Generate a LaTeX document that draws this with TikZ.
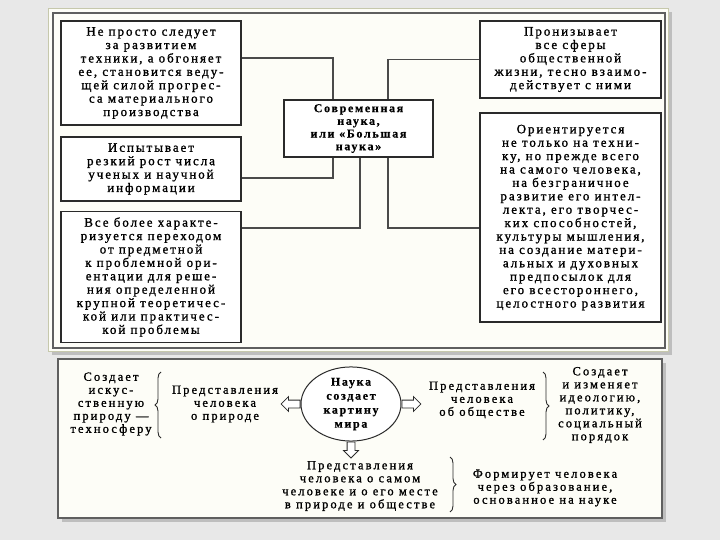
\documentclass[tikz,border=0pt]{standalone}
\usepackage{fontspec}
\setmainfont{Liberation Serif}
\newfontfamily\panelfont[LetterSpace=15, FakeBold=1.2]{Liberation Serif}
\newfontfamily\notefont[LetterSpace=17, FakeBold=1.2]{Liberation Serif}
\newfontfamily\hubfont[LetterSpace=14, FakeBold=0.6]{Liberation Serif}
\usetikzlibrary{positioning, shapes.geometric, shapes.arrows, shadows, decorations.pathreplacing}
\definecolor{paper}{HTML}{FDFDF7}
\definecolor{backdrop}{HTML}{E8E8E8}
\definecolor{frameline}{HTML}{C6C8AC}
\definecolor{ink}{HTML}{2A2A2A}

\tikzset{
  box/.style={draw=ink, line width=1.1pt, fill=white, align=center, inner sep=0pt,
    font=\panelfont\fontsize{13}{13.4}\selectfont},
  hub/.style={box, font=\hubfont\bfseries\fontsize{12}{12.7}\selectfont},
  link/.style={draw=ink!85, line width=1.1pt},
  note/.style={align=center, inner sep=0pt, font=\notefont\fontsize{12.5}{13}\selectfont},
  hollow/.style={single arrow, draw=ink, fill=white, line width=0.8pt, inner sep=3.5pt,
    single arrow head extend=3.5pt, minimum height=19pt},
  curly/.style={decorate, decoration={brace, amplitude=6pt}, line width=0.9pt, draw=ink}
}

\begin{document}
\begin{tikzpicture}[x=1pt, y=-1pt, on grid]
  \useasboundingbox (0,0) rectangle (720,540);
  \fill[backdrop] (0,0) rectangle (720,540);

  % upper panel
  \filldraw[fill=paper, draw=frameline, drop shadow={shadow xshift=4pt, shadow yshift=-4pt, opacity=0.4}]
    (48,8) rectangle (668,351);
  \draw[ink!75, line width=1.2pt] (53,13) rectangle (665,348);
  % lower panel
  \filldraw[fill=paper, draw=ink!75, line width=1.2pt, drop shadow={shadow xshift=4pt, shadow yshift=-4pt, opacity=0.4}]
    (58,359) rectangle (662,518);

  \node[hub, minimum width=149pt, minimum height=57pt] (sci) at (358.5,128.5)
    {Современная\\наука,\\или «Большая\\наука»};
  \node[box, minimum width=180pt, minimum height=104pt] (tech) [above left=55.5pt and 207.5pt of sci]
    {Не просто следует\\за развитием\\техники, а обгоняет\\ее, становится веду-\\щей силой прогрес-\\са материального\\производства};
  \node[box, minimum width=180pt, minimum height=64pt] (growth) [below left=40.5pt and 207.5pt of sci]
    {Испытывает\\резкий рост числа\\ученых и научной\\информации};
  \node[box, minimum width=180pt, minimum height=131pt] (problem) [below left=148.5pt and 207.5pt of sci]
    {Все более характе-\\ризуется переходом\\от предметной\\к проблемной ори-\\ентации для реше-\\ния определенной\\крупной теоретичес-\\кой или практичес-\\кой проблемы};
  \node[box, minimum width=181pt, minimum height=77pt] (society) [above right=69pt and 212pt of sci]
    {Пронизывает\\все сферы\\общественной\\жизни, тесно взаимо-\\действует с ними};
  \node[box, minimum width=181pt, minimum height=209pt] (person) [below right=89pt and 212pt of sci]
    {Ориентируется\\не только на техни-\\ку, но прежде всего\\на самого человека,\\на безграничное\\развитие его интел-\\лекта, его творчес-\\ких способностей,\\культуры мышления,\\на создание матери-\\альных и духовных\\предпосылок для\\его всестороннего,\\целостного развития};

  \draw[link] ([yshift=15pt]tech.east) -| ([xshift=-25.5pt]sci.north);
  \draw[link] ([yshift=-9pt]growth.east) -| ([xshift=-25.5pt]sci.south);
  \draw[link] ([yshift=49pt]problem.east) -| ([xshift=1.5pt]sci.south);
  \draw[link] ([xshift=29.5pt]sci.north) |- (society.west);
  \draw[link] ([xshift=29.5pt]sci.south) |- ([yshift=-10.5pt]person.west);

  % picture of the world
  \node[ellipse, draw=ink, line width=1pt, fill=white, minimum width=100pt, minimum height=72pt,
    inner sep=0pt, align=center, font=\hubfont\bfseries\fontsize{12}{14}\selectfont] (world) at (351,404)
    {Наука\\создает\\картину\\мира};
  \node[note] (nature) [left=126pt of world] {Представления\\человека\\о природе};
  \node[note] (techno) [left=114pt of nature] {Создает\\искус-\\ственную\\природу —\\техносферу};
  \node[note] (social) [above right=4pt and 131pt of world] {Представления\\человека\\об обществе};
  \node[note] (ideo) [below right=5pt and 118pt of social] {Создает\\и изменяет\\идеологию,\\политику,\\социальный\\порядок};
  \node[note] (self) [below right=82pt and 9pt of world] {Представления\\человека о самом\\человеке и о его месте\\в природе и обществе};
  \node[note] (edu) [below right=2pt and 185pt of self] {Формирует человека\\через образование,\\основанное на науке};

  \node[hollow, shape border rotate=180, anchor=tail] (toleft) at (world.west) {};
  \node[hollow, anchor=tail] (toright) at (world.east) {};
  \node[hollow, shape border rotate=270, anchor=tail, minimum height=16pt] (todown) at (world.south) {};

  \draw[curly] (161,438) -- (161,372);
  \draw[curly] (543,372) -- (543,440);
  \draw[curly] (450,457) -- (450,512);
\end{tikzpicture}
\end{document}
